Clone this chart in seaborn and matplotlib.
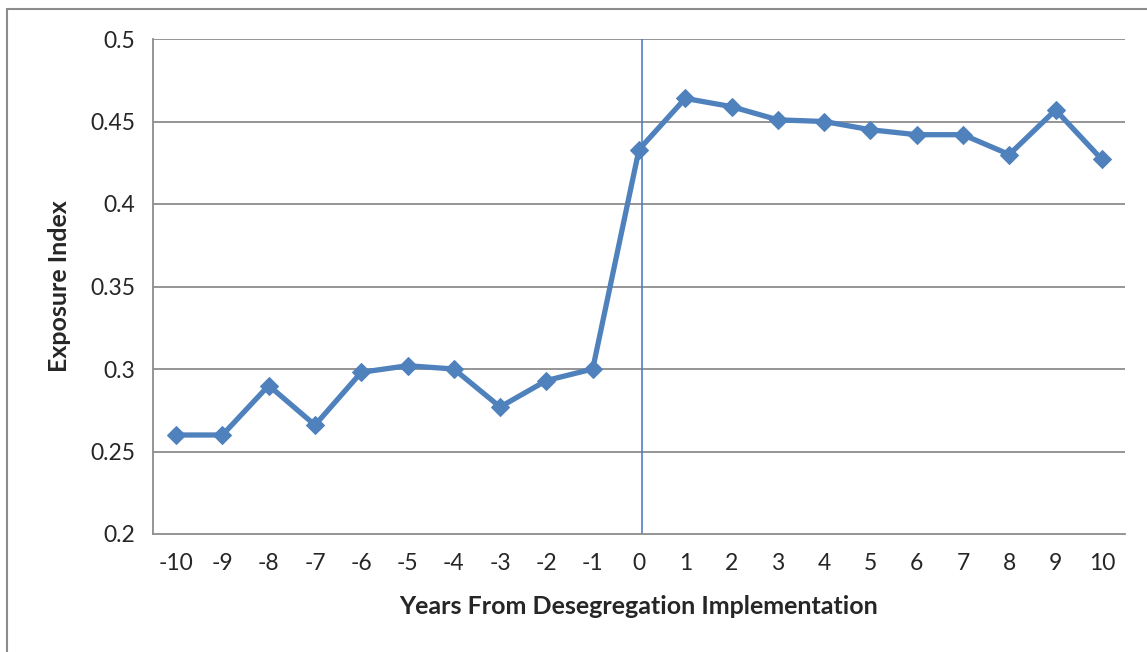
import matplotlib
matplotlib.use('Agg')
import matplotlib.pyplot as plt
import seaborn as sns
import pandas as pd
from matplotlib.patches import Rectangle

# data
years = list(range(-10, 11))
exposure = [0.260, 0.260, 0.290, 0.266, 0.298, 0.302, 0.300, 0.277, 0.293, 0.300,
            0.433, 0.464, 0.459, 0.451, 0.450, 0.445, 0.442, 0.442, 0.430, 0.457, 0.427]
y_ticks = [0.2, 0.25, 0.3, 0.35, 0.4, 0.45, 0.5]
y_tick_labels = ["0.2", "0.25", "0.3", "0.35", "0.4", "0.45", "0.5"]

df = pd.DataFrame({"year": years, "exposure": exposure})

sns.set_style("white")
plt.rcParams["font.family"] = ["Lato", "DejaVu Sans"]

blue = "#4F81BD"
grid_gray = "#8C8C8C"

fig = plt.figure(figsize=(11.47, 6.52), dpi=100)
ax = fig.add_axes([153 / 1147, 1 - 534 / 652, 972 / 1147, 495 / 652])

# horizontal gridlines
for t in y_ticks[1:]:
    ax.axhline(t, color=grid_gray, lw=1.3, zorder=0)

# the vertical marker line at year 0
ax.axvline(0.06, color=blue, lw=1.2, zorder=1)

sns.lineplot(data=df, x="year", y="exposure", ax=ax, color=blue, lw=3.8,
             marker="D", markersize=9.5, markeredgecolor=blue, zorder=3)

ax.set_xlim(-10.5, 10.5)
ax.set_ylim(0.2, 0.5)
ax.set_xticks(years)
ax.set_xticklabels([str(y) for y in years], fontsize=16.5)
ax.set_yticks(y_ticks)
ax.set_yticklabels(y_tick_labels, fontsize=16.5)
ax.tick_params(axis="x", length=0, pad=14)
ax.tick_params(axis="y", length=7, width=1.3, color=grid_gray, pad=6)

for side in ["top", "right"]:
    ax.spines[side].set_visible(False)
for side in ["left", "bottom"]:
    ax.spines[side].set_color(grid_gray)
    ax.spines[side].set_linewidth(1.3)

ax.set_xlabel("Years From Desegregation Implementation", fontsize=18, fontweight="bold", labelpad=15)
ax.set_ylabel("Exposure Index", fontsize=18, fontweight="bold", labelpad=14)

# chart border (only top and left visible in the crop)
fig.patches.append(Rectangle((7 / 1147, -0.1), 1.2, 1.1 - 9 / 652,
                             transform=fig.transFigure, fill=False,
                             edgecolor="#8C8C8C", lw=1.5))

fig.savefig("out.png", dpi=100)
